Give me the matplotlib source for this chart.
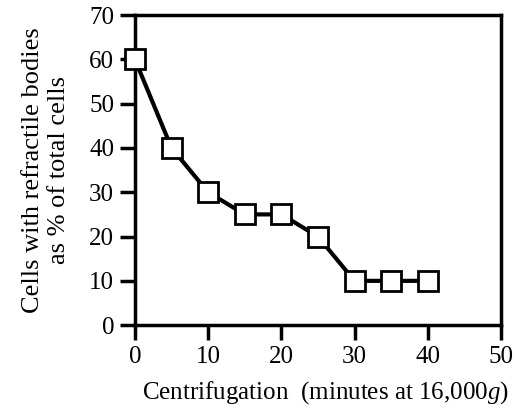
import matplotlib
matplotlib.use("Agg")
import matplotlib.pyplot as plt

minutes = [0, 5, 10, 15, 20, 25, 30, 35, 40]
pct_refractile = [60, 40, 30, 25, 25, 20, 10, 10, 10]
x_ticks = [0, 10, 20, 30, 40, 50]
y_ticks = [0, 10, 20, 30, 40, 50, 60, 70]

plt.rcParams["font.family"] = ["Liberation Serif", "DejaVu Serif"]
plt.rcParams["mathtext.fontset"] = "custom"
plt.rcParams["mathtext.it"] = "Liberation Serif:italic"
plt.rcParams["mathtext.rm"] = "Liberation Serif"

fig = plt.figure(figsize=(5.17, 4.19), dpi=100)
ax = fig.add_axes([0.261, 0.224, 0.708, 0.740])

ax.plot(minutes, pct_refractile, color="black", linewidth=3, marker="s",
        markersize=15, markerfacecolor="white", markeredgecolor="black",
        markeredgewidth=2, clip_on=False, zorder=3)

ax.set_xlim(0, 50)
ax.set_ylim(0, 70)
ax.set_xticks(x_ticks)
ax.set_yticks(y_ticks)
for s in ax.spines.values():
    s.set_linewidth(2.5)
ax.tick_params(direction="out", length=11, width=2.5, labelsize=18,
               pad=4, top=False, right=False)

ax.set_xlabel("Centrifugation  (minutes at 16,000$g$)", fontsize=18)
ax.xaxis.set_label_coords(0.52, -0.175)
ax.set_ylabel("Cells with refractile bodies\nas % of total cells",
              fontsize=19, labelpad=14, linespacing=1.2)

fig.savefig("out.png", dpi=100)
